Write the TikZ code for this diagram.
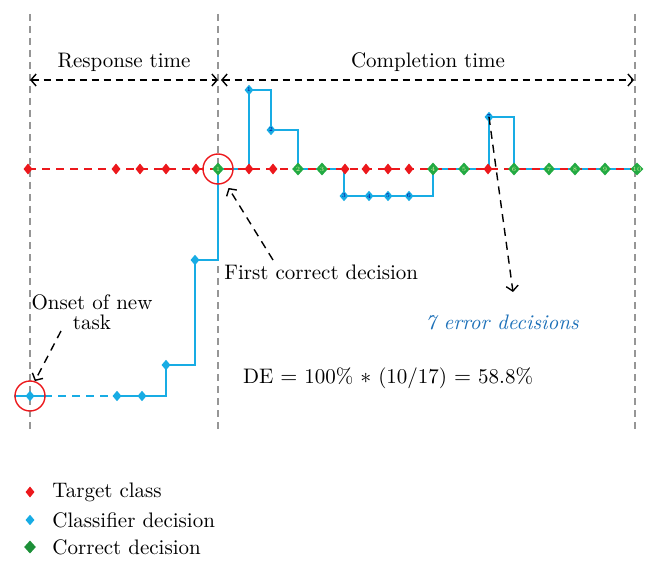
\documentclass[tikz,border=0pt]{standalone}
\usepackage{amssymb}
\usepackage{tikz}
\usetikzlibrary{arrows.meta}
\usetikzlibrary{shapes.geometric}
\usetikzlibrary{backgrounds}
\usetikzlibrary{positioning}

\definecolor{target red}{RGB}{236,24,28}
\definecolor{decision blue}{RGB}{24,172,228}
\definecolor{correct green}{RGB}{34,170,66}
\definecolor{error blue}{RGB}{28,112,184}
\definecolor{guide gray}{RGB}{150,150,150}

\begin{document}
\begin{tikzpicture}[
            x=0.5pt, y=-0.5pt,
            every node/.style={inner sep=0pt, font=\fontsize{10.5}{10}\selectfont},
            target/.style={diamond, fill=target red, minimum width=4.6pt, minimum height=5.6pt},
            decision/.style={diamond, fill=decision blue, minimum width=4.6pt, minimum height=5.4pt,
                font=\fontsize{3}{3}\selectfont, text=blue!60!black},
            correct/.style={diamond, fill=correct green, minimum width=6pt, minimum height=6.6pt,
                font=\fontsize{3.2}{3}\selectfont, text=yellow!60!green!40},
            ring/.style={circle, draw=target red, line width=0.7pt, minimum size=15pt},
            guide/.style={draw=guide gray, line width=0.7pt, dash pattern=on 3.5pt off 2.5pt},
            target line/.style={draw=target red, line width=0.9pt, dash pattern=on 4pt off 3pt},
            decision line/.style={draw=decision blue, line width=0.8pt},
            span/.style={draw, line width=0.7pt, dash pattern=on 3.5pt off 2.5pt, <->},
            callout/.style={draw, line width=0.7pt, dash pattern=on 4pt off 3pt, ->}
        ]
        \tikzset{>={Straight Barb[length=2.6pt,width=6pt]}}
        \useasboundingbox (0,0) rectangle (656,571);

        % time marks
        \coordinate (onset top) at (30,14);
        \coordinate (onset bottom) at (30,430);
        \coordinate (first top) at (218,14);
        \coordinate (first bottom) at (218,430);
        \coordinate (end top) at (635,14);
        \coordinate (end bottom) at (635,432);

        \coordinate (response left) at (30,80);
        \coordinate (response right) at (218,80);
        \coordinate (completion left) at (221,80);
        \coordinate (completion right) at (634,80);
        \draw[span] (response left) -- (response right);
        \draw[span] (completion left) -- (completion right);
        \node (response label) at (124,62) {Response time};
        \node (completion label) at (428,62) {Completion time};

        % target class and decisions
        \foreach \x [count=\i] in {28,116,140,166,196,249,273,345,366,388,409,488}
            \node[target] (target \i) at (\x,169) {};
        \foreach \x [count=\i] in {218,298,322,433,464,514,549,575,605,637}
            \node[correct] (correct \i) at (\x,169) {\i};
        \foreach \p [count=\i] in {(249,90),(271,130),(344,196),(369,196),(388,196),(409,196),(489,117)}
            \node[decision] (error \i) at \p {\i};
        \node[decision] (onset dot) at (30,396) {};
        \node[decision] (decision 1) at (117,396) {};
        \node[decision] (decision 2) at (142,396) {};
        \node[decision] (decision 3) at (166,365) {};
        \node[decision] (decision 4) at (195,260) {};

        \begin{scope}[on background layer]
            \draw[guide] (onset top) -- (onset bottom);
            \draw[guide] (first top) -- (first bottom);
            \draw[guide] (end top) -- (end bottom);
            \draw[decision line] ([xshift=-8pt]onset dot.center) -- ([xshift=7pt]onset dot.center);
            \draw[decision line, dash pattern=on 4pt off 3pt] ([xshift=7pt]onset dot.center) -- (decision 1.center);
            \draw[decision line] (decision 1.center) -- (decision 2.center) -| (decision 3.center)
                -| (decision 4.center) -| (correct 1.center) -| (error 1.center) -| (error 2.center)
                -| (correct 2.center) -- (correct 3.center) -| (error 3.center) -- (error 6.center)
                -| (correct 4.center) -- (correct 5.center) -| (error 7.center) -| (correct 6.center)
                -- (correct 10.center);
            \draw[target line] (target 1.center) -- ([xshift=2pt]correct 10.center);
        \end{scope}

        \node[ring] (onset ring) at (onset dot) {};
        \node[ring] (first ring) at (correct 1) {};

        % labels
        \node[align=center] (onset label) at (92,312) {Onset of new\\task};
        \coordinate (onset tail) at (61,331);
        \draw[callout] (onset tail) -- (onset ring.72);

        \node[anchor=west] (first label) at (224,272) {First correct decision};
        \coordinate (first tail) at (273,260);
        \draw[callout, shorten >=3pt] (first tail) -- (first ring.-62);

        \node[text=error blue, font=\fontsize{10.5}{10}\selectfont\itshape] (error label) at (502,322) {7 error decisions};
        \coordinate (error tip) at (513,292);
        \draw[callout] (error 7.center) -- (error tip);

        \node (de label) at (388,378) {DE $=$ 100\% $\ast$ (10/17) $=$ 58.8\%};

        % key
        \node[target] (key target) at (30,492) {};
        \node[decision] (key decision) at (30,520) {};
        \node[correct, fill=correct green!85!black] (key correct) at (30,547) {};
        \node[right=11pt of key target.center] (key target text) {Target class};
        \node[right=11pt of key decision.center] (key decision text) {Classifier decision};
        \node[right=11pt of key correct.center] (key correct text) {Correct decision};
    \end{tikzpicture}
\end{document}
